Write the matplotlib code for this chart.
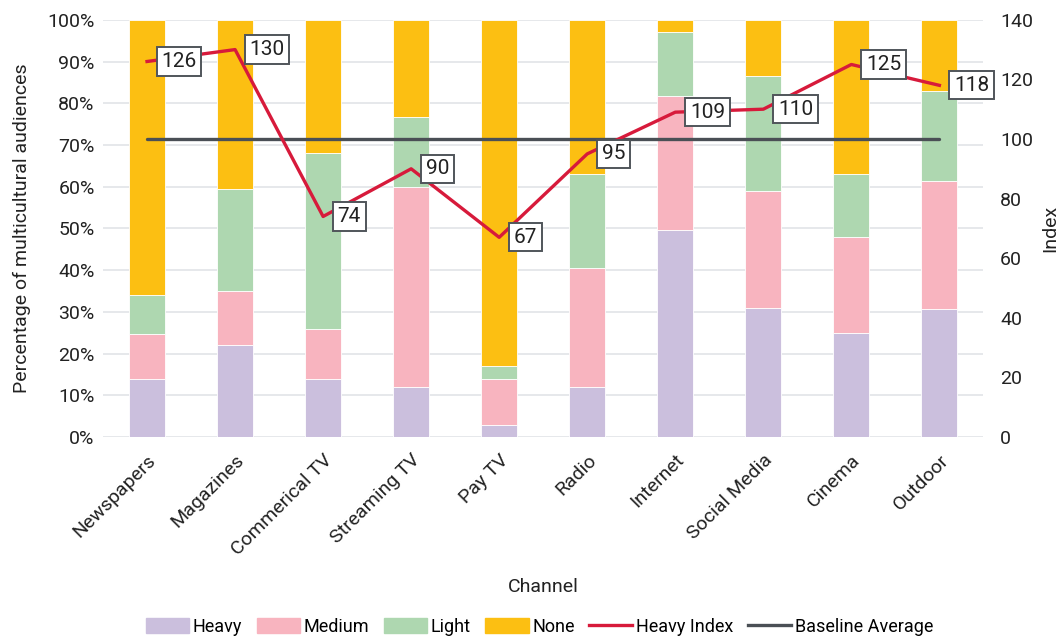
import matplotlib
matplotlib.use('Agg')
import matplotlib.pyplot as plt
from matplotlib import rcParams, patches
from matplotlib.lines import Line2D
from matplotlib.ticker import PercentFormatter
import numpy

rcParams['font.family'] = ['Roboto', 'DejaVu Sans']

channels = ['Newspapers', 'Magazines', 'Commerical TV', 'Streaming TV', 'Pay TV',
            'Radio', 'Internet', 'Social Media', 'Cinema', 'Outdoor']
heavy = [14, 22, 14, 12, 3, 12, 49.5, 31, 25, 30.7]
medium = [10.7, 13, 12, 48, 11, 28.5, 32.3, 28, 23, 30.7]
light = [9.3, 24.5, 42, 16.7, 3, 22.5, 15.2, 27.6, 15, 21.6]
none_ = [66, 40.5, 32, 23.3, 83, 37, 3, 13.4, 37, 17]
heavy_index = [126, 130, 74, 90, 67, 95, 109, 110, 125, 118]
baseline = [100] * 10

col_heavy = '#CBBFDD'
col_medium = '#F8B4BF'
col_light = '#AED7B0'
col_none = '#FCBF12'
col_index = '#D71A3B'
col_base = '#4A4F55'
txt = '#222222'

fig = plt.figure(figsize=(10.62, 6.38), dpi=100)
ax1 = fig.add_axes([0.097, 0.315, 0.829, 0.654])
ax2 = ax1.twinx()

x = numpy.arange(len(channels))
w = 0.41
bottom = numpy.zeros(len(channels))
for vals, c, lab in [(heavy, col_heavy, 'Heavy'), (medium, col_medium, 'Medium'),
                     (light, col_light, 'Light'), (none_, col_none, 'None')]:
    ax1.bar(x, vals, w, bottom=bottom, color=c, edgecolor='white', linewidth=0.6,
            label=lab, zorder=2)
    bottom += numpy.array(vals)

ax1.set_ylim(0, 100)
ax1.set_xlim(-0.5, len(channels) - 0.5)
ax1.yaxis.set_major_locator(plt.MultipleLocator(10))
ax1.yaxis.set_major_formatter(PercentFormatter(decimals=0))
ax1.grid(axis='y', color='#E1E4E8', lw=1.2, zorder=0)
ax1.set_axisbelow(True)

ax2.plot(x, baseline, color=col_base, lw=2.4, solid_capstyle='round', zorder=3)
ax2.plot(x, heavy_index, color=col_index, lw=2.4, zorder=4)
ax2.set_ylim(0, 140)
ax2.yaxis.set_major_locator(plt.MultipleLocator(20))

for xi, v in zip(x, heavy_index):
    ax2.annotate(str(v), xy=(xi, v), xytext=(10.5, 0), textcoords='offset points',
                 ha='left', va='center', fontsize=15, color=txt, zorder=5,
                 bbox=dict(boxstyle='square,pad=0.22', fc='white', ec='#50555A', lw=1.4))

for ax in (ax1, ax2):
    for s in ax.spines.values():
        s.set_visible(False)
    ax.tick_params(length=0, labelsize=14, colors=txt)

ax1.set_xticks(x)
ax1.set_xticklabels(channels, rotation=45, ha='right', rotation_mode='anchor')
ax1.tick_params(axis='x', pad=10)
ax1.tick_params(axis='y', pad=6)
ax2.tick_params(axis='y', pad=12)

ax1.set_xlabel('Channel', fontsize=14, color=txt, labelpad=14)
ax1.set_ylabel('Percentage of multicultural audiences', fontsize=14, color=txt)
ax1.yaxis.set_label_coords(-0.082, 0.5)
ax2.set_ylabel('Index', fontsize=14, color=txt, labelpad=6)

handles = [patches.Patch(color=col_heavy, label='Heavy'),
           patches.Patch(color=col_medium, label='Medium'),
           patches.Patch(color=col_light, label='Light'),
           patches.Patch(color=col_none, label='None'),
           Line2D([], [], color=col_index, lw=2.4, label='Heavy Index'),
           Line2D([], [], color=col_base, lw=2.4, label='Baseline Average')]
fig.legend(handles=handles, loc='lower center', bbox_to_anchor=(0.508, -0.022), ncol=6,
           frameon=False, fontsize=13, handlelength=2.4, handleheight=0.9,
           handletextpad=0.2, columnspacing=0.8)

plt.savefig('out.png', dpi=100)
